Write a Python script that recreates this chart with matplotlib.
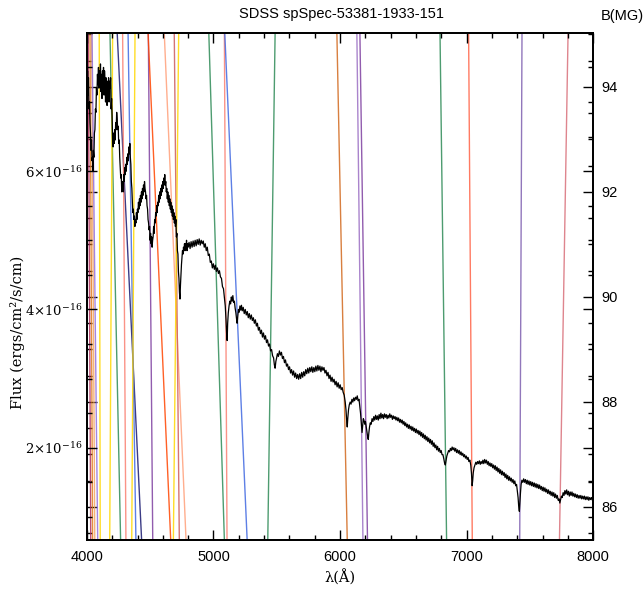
import numpy as np
import matplotlib
matplotlib.use("Agg")
import matplotlib.pyplot as plt
from matplotlib.ticker import FixedLocator, MultipleLocator, FuncFormatter

plt.rcParams["mathtext.fontset"] = "dejavuserif"

# Observed spectrum: wavelength (Angstrom) and flux (1e-16 ergs/cm^2/s/cm)
wavelength = [
    4002, 4005, 4008, 4012, 4016, 4020, 4024, 4028, 4032, 4036, 4040, 4044, 4047, 4051, 4055, 4059,
    4063, 4067, 4071, 4075, 4079, 4083, 4087, 4091, 4095, 4099, 4103, 4107, 4111, 4115, 4119, 4123,
    4127, 4131, 4135, 4139, 4143, 4147, 4151, 4155, 4159, 4163, 4167, 4171, 4175, 4179, 4183, 4187,
    4191, 4195, 4199, 4203, 4207, 4211, 4215, 4219, 4223, 4227, 4231, 4235, 4239, 4243, 4247, 4251,
    4255, 4259, 4263, 4267, 4271, 4275, 4279, 4283, 4287, 4291, 4295, 4299, 4303, 4307, 4311, 4315,
    4319, 4323, 4327, 4331, 4335, 4339, 4343, 4347, 4351, 4355, 4359, 4363, 4367, 4371, 4375, 4379,
    4383, 4387, 4391, 4395, 4399, 4403, 4407, 4411, 4415, 4419, 4423, 4427, 4431, 4435, 4439, 4443,
    4447, 4451, 4455, 4459, 4463, 4467, 4471, 4475, 4479, 4483, 4487, 4491, 4495, 4499, 4503, 4507,
    4511, 4515, 4519, 4523, 4527, 4531, 4535, 4539, 4543, 4547, 4551, 4555, 4559, 4563, 4567, 4571,
    4575, 4579, 4583, 4587, 4591, 4595, 4599, 4603, 4607, 4611, 4615, 4619, 4623, 4627, 4631, 4635,
    4639, 4643, 4647, 4651, 4655, 4659, 4663, 4667, 4671, 4675, 4679, 4683, 4687, 4691, 4695, 4699,
    4703, 4707, 4711, 4715, 4719, 4723, 4727, 4731, 4735, 4739, 4743, 4747, 4751, 4755, 4759, 4763,
    4767, 4771, 4775, 4779, 4783, 4787, 4791, 4795, 4799, 4807, 4815, 4823, 4831, 4839, 4847, 4855,
    4863, 4871, 4879, 4887, 4895, 4903, 4911, 4919, 4927, 4935, 4943, 4951, 4959, 4967, 4975, 4983,
    4991, 4999, 5007, 5015, 5023, 5031, 5039, 5047, 5055, 5063, 5071, 5079, 5087, 5093, 5099, 5105,
    5108, 5112, 5117, 5123, 5129, 5135, 5141, 5147, 5153, 5159, 5165, 5171, 5177, 5183, 5187, 5192,
    5197, 5203, 5209, 5215, 5221, 5227, 5235, 5243, 5251, 5259, 5267, 5275, 5283, 5291, 5299, 5307,
    5315, 5323, 5331, 5339, 5347, 5355, 5363, 5371, 5379, 5387, 5395, 5403, 5411, 5419, 5427, 5435,
    5443, 5451, 5459, 5467, 5475, 5481, 5487, 5493, 5499, 5505, 5513, 5521, 5529, 5537, 5545, 5553,
    5561, 5569, 5577, 5585, 5593, 5601, 5609, 5617, 5625, 5633, 5641, 5649, 5657, 5665, 5673, 5681,
    5689, 5697, 5705, 5713, 5721, 5729, 5737, 5745, 5753, 5761, 5769, 5777, 5785, 5793, 5801, 5809,
    5817, 5825, 5833, 5841, 5849, 5857, 5865, 5873, 5881, 5889, 5897, 5905, 5913, 5921, 5929, 5937,
    5945, 5953, 5961, 5969, 5977, 5985, 5993, 6001, 6009, 6017, 6025, 6033, 6041, 6047, 6053, 6057,
    6061, 6067, 6073, 6080, 6087, 6094, 6101, 6108, 6115, 6122, 6129, 6136, 6143, 6150, 6156, 6162,
    6168, 6174, 6179, 6184, 6189, 6195, 6201, 6207, 6213, 6219, 6223, 6228, 6233, 6239, 6246, 6253,
    6260, 6267, 6274, 6281, 6288, 6295, 6302, 6309, 6316, 6323, 6330, 6337, 6344, 6351, 6358, 6365,
    6372, 6379, 6386, 6393, 6400, 6407, 6414, 6421, 6428, 6435, 6442, 6449, 6456, 6463, 6470, 6477,
    6484, 6491, 6498, 6505, 6512, 6519, 6526, 6533, 6540, 6547, 6554, 6561, 6568, 6575, 6582, 6589,
    6596, 6603, 6610, 6617, 6624, 6631, 6638, 6645, 6652, 6659, 6666, 6673, 6680, 6687, 6694, 6701,
    6708, 6715, 6722, 6729, 6736, 6743, 6750, 6757, 6764, 6771, 6778, 6785, 6792, 6799, 6806, 6813,
    6820, 6826, 6832, 6838, 6844, 6851, 6858, 6865, 6872, 6879, 6886, 6893, 6900, 6907, 6914, 6921,
    6928, 6935, 6942, 6949, 6956, 6963, 6970, 6977, 6984, 6991, 6998, 7005, 7012, 7019, 7026, 7033,
    7039, 7044, 7048, 7053, 7059, 7066, 7073, 7080, 7087, 7094, 7101, 7108, 7115, 7122, 7129, 7136,
    7143, 7150, 7157, 7164, 7171, 7178, 7185, 7192, 7199, 7206, 7213, 7220, 7227, 7234, 7241, 7248,
    7255, 7262, 7269, 7276, 7283, 7290, 7297, 7304, 7311, 7318, 7325, 7332, 7339, 7346, 7353, 7360,
    7367, 7374, 7381, 7388, 7395, 7401, 7407, 7412, 7417, 7421, 7426, 7431, 7437, 7444, 7451, 7458,
    7465, 7472, 7479, 7486, 7493, 7500, 7507, 7514, 7521, 7528, 7535, 7542, 7549, 7556, 7563, 7570,
    7577, 7584, 7591, 7598, 7605, 7612, 7619, 7626, 7633, 7640, 7647, 7654, 7661, 7668, 7675, 7682,
    7689, 7696, 7703, 7710, 7717, 7724, 7731, 7737, 7743, 7749, 7756, 7763, 7770, 7777, 7784, 7791,
    7798, 7805, 7812, 7819, 7826, 7833, 7840, 7847, 7854, 7861, 7868, 7875, 7882, 7889, 7896, 7903,
    7910, 7917, 7924, 7931, 7938, 7945, 7952, 7959, 7966, 7973, 7980, 7987, 7994, 8000,
]
flux = [
    7.00, 7.45, 7.10, 7.35, 6.90, 7.00, 6.70, 6.55, 6.30, 6.45, 6.15, 6.20, 6.00, 6.30, 6.20, 6.55,
    6.60, 6.90, 6.85, 7.20, 7.10, 7.40, 7.25, 7.50, 7.20, 7.45, 7.30, 7.55, 7.15, 7.40, 7.05, 7.45,
    7.20, 7.50, 7.10, 7.45, 7.30, 7.00, 7.35, 7.20, 6.95, 7.30, 7.10, 7.35, 7.00, 7.30, 7.20, 7.35,
    6.90, 7.05, 6.80, 6.45, 6.35, 6.55, 6.40, 6.60, 6.45, 6.70, 6.60, 6.85, 6.75, 6.60, 6.65, 6.40,
    6.45, 6.20, 6.05, 5.90, 5.95, 5.70, 5.75, 5.85, 5.70, 5.95, 5.85, 6.05, 5.95, 6.10, 6.00, 6.20,
    6.10, 6.25, 6.15, 6.35, 6.25, 6.40, 6.20, 6.10, 5.85, 5.75, 5.55, 5.40, 5.45, 5.30, 5.35, 5.20,
    5.30, 5.25, 5.40, 5.30, 5.45, 5.40, 5.55, 5.45, 5.60, 5.50, 5.65, 5.55, 5.70, 5.60, 5.75, 5.65,
    5.80, 5.70, 5.85, 5.75, 5.70, 5.60, 5.65, 5.50, 5.45, 5.30, 5.25, 5.15, 5.20, 5.00, 5.10, 4.95,
    5.05, 4.90, 5.00, 5.05, 5.20, 5.10, 5.30, 5.25, 5.40, 5.35, 5.50, 5.40, 5.55, 5.50, 5.65, 5.55,
    5.70, 5.60, 5.75, 5.65, 5.80, 5.70, 5.85, 5.75, 5.90, 5.80, 5.95, 5.80, 5.85, 5.70, 5.75, 5.60,
    5.70, 5.55, 5.65, 5.50, 5.60, 5.45, 5.55, 5.40, 5.50, 5.35, 5.45, 5.30, 5.40, 5.25, 5.35, 5.20,
    5.30, 5.05, 5.10, 4.85, 4.80, 4.55, 4.45, 4.25, 4.15, 4.35, 4.50, 4.65, 4.75, 4.85, 4.80, 4.90,
    4.85, 4.95, 4.85, 4.95, 4.90, 5.00, 4.85, 4.95, 4.90, 4.97, 4.88, 4.98, 4.90, 4.99, 4.91, 5.00,
    4.92, 5.01, 4.94, 5.02, 4.93, 5.00, 4.95, 4.99, 4.90, 4.95, 4.85, 4.90, 4.78, 4.80, 4.68, 4.70,
    4.60, 4.66, 4.58, 4.64, 4.55, 4.60, 4.52, 4.56, 4.47, 4.45, 4.33, 4.30, 4.15, 4.05, 3.85, 3.60,
    3.55, 3.80, 3.95, 4.05, 4.12, 4.08, 4.18, 4.12, 4.20, 4.10, 4.12, 4.02, 3.95, 3.85, 3.80, 3.90,
    4.00, 3.96, 4.05, 3.99, 4.06, 3.98, 4.03, 3.94, 4.00, 3.92, 3.97, 3.88, 3.94, 3.86, 3.92, 3.84,
    3.88, 3.80, 3.85, 3.76, 3.80, 3.70, 3.74, 3.65, 3.70, 3.60, 3.66, 3.57, 3.62, 3.52, 3.56, 3.47,
    3.50, 3.40, 3.42, 3.33, 3.30, 3.20, 3.15, 3.25, 3.30, 3.36, 3.32, 3.40, 3.34, 3.38, 3.29, 3.32,
    3.23, 3.27, 3.18, 3.21, 3.13, 3.17, 3.08, 3.13, 3.05, 3.11, 3.02, 3.08, 3.00, 3.06, 2.99, 3.07,
    3.00, 3.09, 3.02, 3.10, 3.04, 3.13, 3.07, 3.15, 3.08, 3.16, 3.10, 3.17, 3.09, 3.16, 3.10, 3.18,
    3.11, 3.19, 3.12, 3.18, 3.10, 3.17, 3.12, 3.16, 3.08, 3.12, 3.04, 3.09, 3.00, 3.05, 2.96, 3.02,
    2.95, 2.99, 2.91, 2.96, 2.88, 2.94, 2.86, 2.91, 2.84, 2.87, 2.80, 2.76, 2.66, 2.55, 2.38, 2.30,
    2.42, 2.55, 2.62, 2.66, 2.63, 2.70, 2.66, 2.72, 2.68, 2.73, 2.70, 2.75, 2.68, 2.70, 2.60, 2.50,
    2.35, 2.22, 2.32, 2.42, 2.40, 2.34, 2.38, 2.30, 2.22, 2.15, 2.12, 2.22, 2.30, 2.36, 2.34, 2.42,
    2.38, 2.45, 2.40, 2.47, 2.41, 2.46, 2.40, 2.48, 2.42, 2.50, 2.43, 2.48, 2.42, 2.49, 2.44, 2.48,
    2.42, 2.47, 2.43, 2.49, 2.44, 2.47, 2.41, 2.46, 2.42, 2.45, 2.40, 2.44, 2.39, 2.43, 2.37, 2.41,
    2.36, 2.40, 2.34, 2.38, 2.32, 2.36, 2.30, 2.34, 2.28, 2.33, 2.27, 2.31, 2.25, 2.30, 2.24, 2.28,
    2.22, 2.27, 2.21, 2.25, 2.19, 2.24, 2.17, 2.22, 2.15, 2.20, 2.13, 2.18, 2.11, 2.16, 2.09, 2.14,
    2.07, 2.12, 2.05, 2.10, 2.02, 2.07, 2.00, 2.04, 1.97, 2.02, 1.95, 1.99, 1.93, 1.96, 1.90, 1.90,
    1.84, 1.78, 1.75, 1.82, 1.88, 1.92, 1.96, 1.94, 1.99, 1.96, 2.01, 1.97, 2.00, 1.95, 1.99, 1.93,
    1.97, 1.92, 1.96, 1.90, 1.94, 1.89, 1.92, 1.87, 1.90, 1.85, 1.88, 1.83, 1.86, 1.80, 1.82, 1.75,
    1.62, 1.45, 1.52, 1.64, 1.71, 1.75, 1.79, 1.76, 1.80, 1.77, 1.81, 1.76, 1.80, 1.77, 1.82, 1.77,
    1.83, 1.78, 1.82, 1.76, 1.80, 1.74, 1.78, 1.73, 1.77, 1.71, 1.75, 1.69, 1.74, 1.67, 1.72, 1.65,
    1.70, 1.63, 1.68, 1.61, 1.66, 1.60, 1.64, 1.57, 1.62, 1.55, 1.60, 1.53, 1.58, 1.52, 1.56, 1.50,
    1.54, 1.48, 1.52, 1.45, 1.47, 1.38, 1.28, 1.15, 1.08, 1.20, 1.35, 1.47, 1.53, 1.50, 1.55, 1.50,
    1.54, 1.48, 1.53, 1.47, 1.52, 1.46, 1.51, 1.45, 1.50, 1.44, 1.49, 1.43, 1.48, 1.42, 1.47, 1.41,
    1.46, 1.40, 1.44, 1.38, 1.43, 1.37, 1.42, 1.36, 1.40, 1.34, 1.39, 1.33, 1.37, 1.31, 1.36, 1.30,
    1.35, 1.28, 1.33, 1.27, 1.31, 1.24, 1.26, 1.20, 1.25, 1.30, 1.28, 1.35, 1.31, 1.38, 1.33, 1.39,
    1.32, 1.37, 1.30, 1.36, 1.31, 1.36, 1.30, 1.34, 1.29, 1.33, 1.28, 1.32, 1.27, 1.31, 1.27, 1.31,
    1.26, 1.30, 1.26, 1.30, 1.25, 1.29, 1.25, 1.29, 1.24, 1.28, 1.25, 1.28, 1.24, 1.27,
]

# Field-dependent transition tracks: wavelength at the lower and upper field of the range
b_range = [85.37, 95.03]
track_wave_low_b = [4030, 4045, 4062, 4085, 4105, 4266, 4180, 4432, 4308, 4387, 4354, 4520, 4662,
                    4783, 4730, 4683, 5086, 5107, 5266, 5429, 6057, 6181, 6217, 6842, 7045, 7420, 7734]
track_wave_high_b = [4010, 4024, 4037, 4040, 4097, 4182, 4203, 4239, 4282, 4325, 4380, 4485, 4483,
                     4611, 4690, 4725, 4963, 5086, 5089, 5487, 5975, 6133, 6157, 6790, 7016, 7438, 7802]
track_colors = ["#b03060", "#e07b20", "#f4a460", "#9370db", "#ffd700", "#2e8b57", "#ffd700",
                "#191970", "#fa8072", "#4169e1", "#ffd700", "#7e3fa0", "#ff4500", "#ffa07a",
                "#cd5c5c", "#ffd700", "#2e8b57", "#fa8072", "#4169e1", "#2e8b57", "#d2691e",
                "#9b6fc4", "#7e3fa0", "#2e8b57", "#ff6347", "#7e5fb0", "#d9707a"]

serif = "DejaVu Serif"
sans = "Liberation Sans"

fig = plt.figure(figsize=(6.44, 6.08), dpi=100)
ax = fig.add_axes([0.135, 0.112, 0.786, 0.834])
ax2 = ax.twinx()

ax.plot(wavelength, np.array(flux) * 1e-16, color="black", lw=0.9, zorder=3)
ax.set_xlim(4000, 8000)
ax.set_ylim(0.667e-16, 8.0e-16)

for wl, wh, c in zip(track_wave_low_b, track_wave_high_b, track_colors):
    ax2.plot([wl, wh], b_range, color=c, lw=1.0, alpha=0.85)
ax2.set_ylim(*b_range)

# Spectrum drawn above the tracks
ax.set_zorder(ax2.get_zorder() + 1)
ax.patch.set_visible(False)

ax.xaxis.set_major_locator(MultipleLocator(1000))
ax.xaxis.set_minor_locator(MultipleLocator(200))
ax.yaxis.set_major_locator(FixedLocator([2e-16, 4e-16, 6e-16]))
ax.yaxis.set_minor_locator(MultipleLocator(0.5e-16))
ax.yaxis.set_major_formatter(FuncFormatter(lambda v, p: f"{v / 1e-16:.0f}$\\times$10$^{{-16}}$"))
ax2.yaxis.set_major_locator(MultipleLocator(2))
ax2.yaxis.set_minor_locator(MultipleLocator(0.5))

for a in (ax, ax2):
    a.tick_params(which="both", direction="in", top=True, width=1.0)
    a.tick_params(which="major", length=7)
    a.tick_params(which="minor", length=3.5)
    for s in a.spines.values():
        s.set_linewidth(1.3)
ax.tick_params(axis="y", which="both", right=True)
ax2.tick_params(axis="y", which="both", left=True)

for lab in ax.get_xticklabels():
    lab.set_fontfamily(sans)
    lab.set_fontsize(10.5)
for lab in ax.get_yticklabels():
    lab.set_fontfamily(serif)
    lab.set_fontsize(9.5)
for lab in ax2.get_yticklabels():
    lab.set_fontfamily(sans)
    lab.set_fontsize(10.5)
ax.tick_params(axis="x", pad=7)
ax2.tick_params(axis="y", pad=6)

ax.set_xlabel("λ(Å)", fontfamily=serif, fontsize=10.5, labelpad=4)
fig.text(0.027, 1 - 332 / 608, "Flux (ergs/cm²/s/cm)", rotation=90, fontfamily=serif,
         fontsize=10.5, ha="center", va="center")
fig.text(0.53, 1 - 14 / 608, "SDSS spSpec-53381-1933-151", fontfamily=sans, fontsize=10.5,
         ha="center", va="center")
fig.text(0.933, 1 - 16 / 608, "B(MG)", fontfamily=sans, fontsize=10.5, ha="left", va="center")

fig.savefig("out.png", dpi=100)
